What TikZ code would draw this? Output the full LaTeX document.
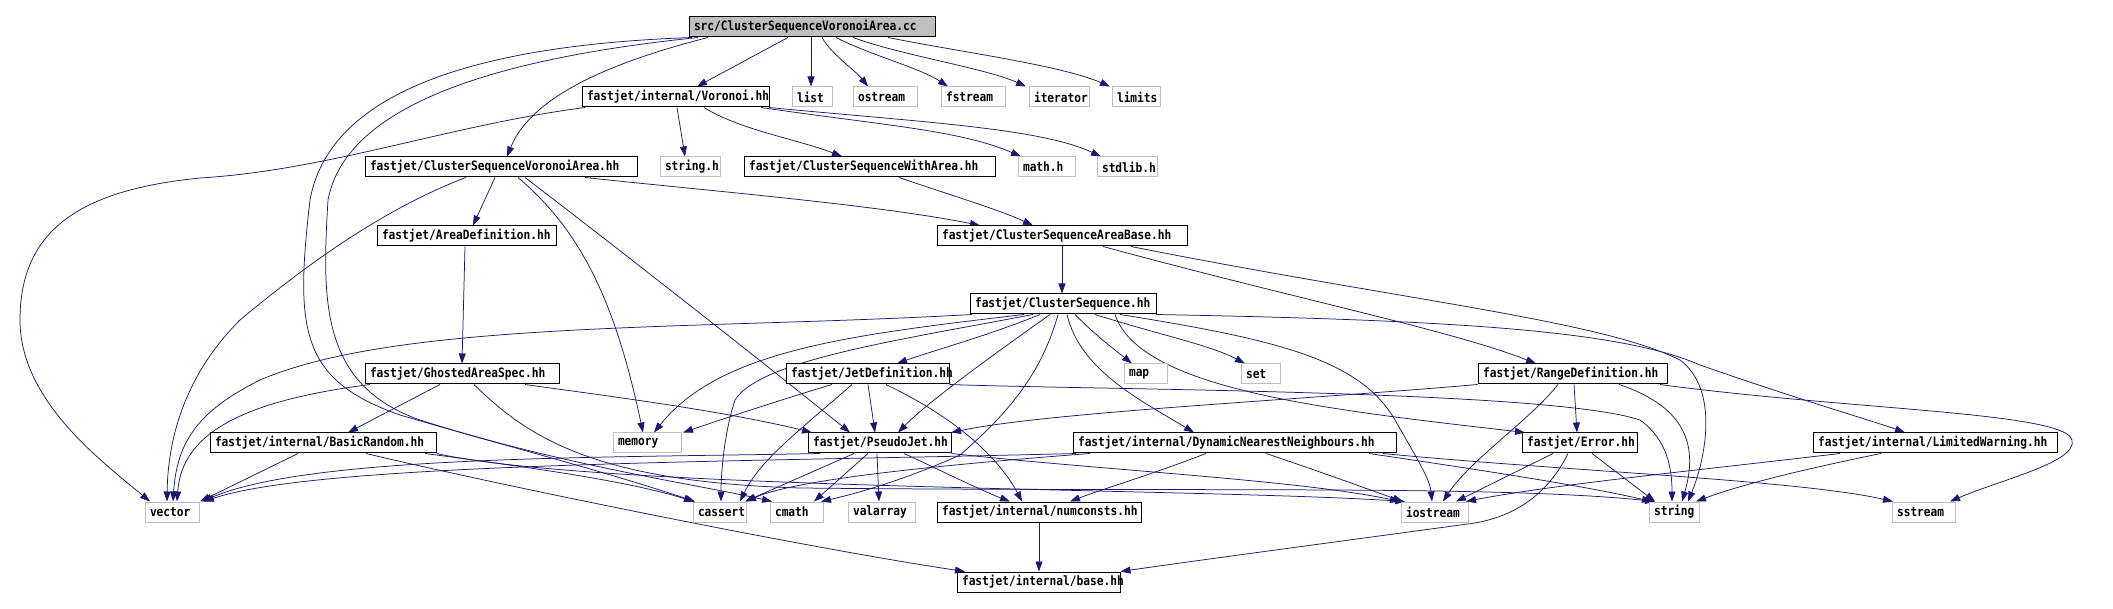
\documentclass[tikz,border=0pt]{standalone}
\usepackage{fontspec}
\setmonofont{DejaVu Sans Mono}
\usetikzlibrary{arrows.meta}
\definecolor{edgec}{HTML}{191970}
\definecolor{grayb}{HTML}{BFBFBF}
\pgfdeclarelayer{edges}
\pgfsetlayers{edges,main}
\newcommand\nd[6]{\node[#1, minimum width=#5pt] (#2) at (#3,#4) {\makebox[\dimexpr #5pt-10pt\relax][l]{\scalebox{1}[1.15]{#6}}};}
\begin{document}
\begin{tikzpicture}[x=1pt,y=-1pt,
  font=\ttfamily\bfseries\fontsize{11.2pt}{13pt}\selectfont,
  hdr/.style={draw=black, line width=1pt, fill=white, minimum height=20pt, inner sep=0pt},
  sys/.style={draw=grayb, line width=1pt, fill=white, minimum height=20pt, inner sep=0pt},
  root/.style={draw=black, line width=1pt, fill=grayb, minimum height=20pt, inner sep=0pt},
  e/.style={draw=edgec, line width=0.75pt, -{Triangle[length=10pt,width=7pt]}}]
\useasboundingbox (0,0) rectangle (2113,609);
% nodes
\nd{root}{src}{812}{27}{246}{src/ClusterSequenceVoronoiArea.cc}
\nd{hdr}{voronoi}{675.5}{97}{187}{fastjet/internal/Voronoi.hh}
\nd{sys}{list}{812}{97}{40}{list}
\nd{sys}{ostream}{885}{97}{64}{ostream}
\nd{sys}{fstream}{973}{97}{64}{fstream}
\nd{sys}{iterator}{1059}{97}{60}{iterator}
\nd{sys}{limits}{1136}{97}{48}{limits}
\nd{hdr}{csva}{501}{167}{272}{fastjet/ClusterSequenceVoronoiArea.hh}
\nd{sys}{stringh}{690}{167}{60}{string.h}
\nd{hdr}{cswa}{869.5}{167}{251}{fastjet/ClusterSequenceWithArea.hh}
\nd{sys}{mathh}{1046.5}{167}{57}{math.h}
\nd{sys}{stdlibh}{1127}{167}{60}{stdlib.h}
\nd{hdr}{areadef}{466.5}{236}{179}{fastjet/AreaDefinition.hh}
\nd{hdr}{csab}{1062}{236}{250}{fastjet/ClusterSequenceAreaBase.hh}
\nd{hdr}{cs}{1063}{304}{186}{fastjet/ClusterSequence.hh}
\nd{hdr}{gas}{462}{374}{194}{fastjet/GhostedAreaSpec.hh}
\nd{hdr}{jetdef}{867.5}{374}{163}{fastjet/JetDefinition.hh}
\nd{sys}{map}{1145.5}{374}{43}{map}
\nd{sys}{set}{1260.5}{374}{39}{set}
\nd{hdr}{rangedef}{1572.5}{374}{189}{fastjet/RangeDefinition.hh}
\nd{hdr}{basicrandom}{323}{443}{226}{fastjet/internal/BasicRandom.hh}
\nd{sys}{memory}{647}{443}{68}{memory}
\nd{hdr}{pseudojet}{879.5}{443}{143}{fastjet/PseudoJet.hh}
\nd{hdr}{dnn}{1234.5}{443}{323}{fastjet/internal/DynamicNearestNeighbours.hh}
\nd{hdr}{error}{1579.5}{443}{115}{fastjet/Error.hh}
\nd{hdr}{limitedwarning}{1935}{443}{244}{fastjet/internal/LimitedWarning.hh}
\nd{sys}{vector}{172}{512}{54}{vector}
\nd{sys}{cassert}{719.5}{512}{53}{cassert}
\nd{sys}{cmath}{796.5}{512}{53}{cmath}
\nd{sys}{valarray}{881.5}{512}{67}{valarray}
\nd{hdr}{numconsts}{1039}{512}{204}{fastjet/internal/numconsts.hh}
\nd{sys}{iostream}{1434.5}{512}{67}{iostream}
\nd{sys}{string}{1674}{512}{50}{string}
\nd{sys}{sstream}{1923.5}{512}{63}{sstream}
\nd{hdr}{base}{1038.5}{582}{163}{fastjet/internal/base.hh}
\begin{pgfonlayer}{edges}
\fill[white] (0,0) rectangle (2113,609);
% src
\draw[e] (src.south -| 788,0) -- (voronoi.north -| 697,0);
\draw[e] (src.south -| 811,0) -- (list.north -| 811,0);
\draw[e] (src.south -| 822,0) .. controls (832,55) and (855,70) .. (ostream.north -| 868,0);
\draw[e] (src.south -| 836,0) .. controls (870,55) and (920,68) .. (fstream.north -| 948,0);
\draw[e] (src.south -| 853,0) .. controls (900,55) and (985,68) .. (iterator.north -| 1026,0);
\draw[e] (src.south -| 888,0) .. controls (960,52) and (1060,65) .. (limits.north -| 1110,0);
\draw[e] (src.south -| 708,0) .. controls (600,65) and (530,100) .. (csva.north -| 507,0);
\draw[e] (src.south -| 692,0) .. controls (480,45) and (330,90) .. (310,200) .. controls (295,330) and (300,380) .. (400,415) .. controls (520,450) and (600,470) .. (cassert.north -| 695,0);
\draw[e] (src.south -| 698,0) .. controls (480,60) and (345,110) .. (328,200) .. controls (322,300) and (320,385) .. (420,420) .. controls (560,465) and (700,485) .. (cmath.north -| 772,0);
% voronoi
\draw[e] (voronoi.south -| 585,0) .. controls (450,125) and (330,170) .. (200,178) .. controls (80,190) and (20,230) .. (20,320) .. controls (20,400) and (100,460) .. (vector.north -| 150,0);
\draw[e] (voronoi.south -| 677,0) -- (stringh.north -| 685,0);
\draw[e] (voronoi.south -| 704,0) .. controls (740,130) and (800,140) .. (cswa.north -| 842,0);
\draw[e] (voronoi.south -| 761,0) .. controls (880,125) and (960,130) .. (mathh.north -| 1021,0);
\draw[e] (voronoi.south -| 769,0) .. controls (920,122) and (1040,128) .. (stdlibh.north -| 1101,0);
% csva
\draw[e] (csva.south -| 495,0) -- (areadef.north -| 473,0);
\draw[e] (csva.south -| 585,0) .. controls (700,190) and (880,205) .. (csab.north -| 980,0);
\draw[e] (csva.south -| 466,0) .. controls (380,210) and (300,270) .. (240,320) .. controls (190,370) and (168,430) .. (vector.north -| 167,0);
\draw[e] (csva.south -| 518,0) .. controls (580,230) and (615,300) .. (memory.north -| 643,0);
\draw[e] (csva.south -| 525,0) .. controls (620,250) and (760,360) .. (pseudojet.north -| 850,0);
% cswa, areadef
\draw[e] (cswa.south -| 899,0) .. controls (950,195) and (1000,210) .. (csab.north -| 1033,0);
\draw[e] (areadef.south -| 465,0) -- (gas.north -| 462,0);
% csab
\draw[e] (csab.south) -- (cs.north -| 1062,0);
\draw[e] (csab.south -| 1103,0) .. controls (1300,300) and (1450,330) .. (rangedef.north -| 1536,0);
\draw[e] (csab.south -| 1131,0) .. controls (1400,300) and (1600,320) .. (1680,360) .. controls (1720,390) and (1705,460) .. (string.north -| 1688,0);
% cs
\draw[e] (cs.south -| 972,0) .. controls (700,330) and (400,320) .. (260,380) .. controls (200,410) and (177,440) .. (vector.north -| 173,0);
\draw[e] (cs.south -| 1024,0) .. controls (850,335) and (720,350) .. (memory.north -| 654,0);
\draw[e] (cs.south -| 1033,0) .. controls (900,340) and (760,360) .. (735,400) .. controls (725,430) and (721,470) .. (cassert.north -| 721,0);
\draw[e] (cs.south -| 1040,0) .. controls (990,335) and (935,350) .. (jetdef.north -| 897,0);
\draw[e] (cs.south -| 1050,0) .. controls (1000,350) and (930,400) .. (pseudojet.north -| 898,0);
\draw[e] (cs.south -| 1058,0) .. controls (1040,380) and (1000,420) .. (960,455) .. controls (900,482) and (850,495) .. (cmath.north -| 821,0);
\draw[e] (cs.south -| 1067,0) .. controls (1080,370) and (1140,400) .. (dnn.north -| 1194,0);
\draw[e] (cs.south -| 1075,0) .. controls (1095,335) and (1115,350) .. (map.north -| 1132,0);
\draw[e] (cs.south -| 1095,0) .. controls (1160,335) and (1210,345) .. (set.north -| 1245,0);
\draw[e] (cs.south -| 1120,0) .. controls (1280,340) and (1360,360) .. (1395,420) .. controls (1418,460) and (1430,480) .. (iostream.north -| 1432,0);
\draw[e] (cs.south -| 1115,0) .. controls (1140,390) and (1330,410) .. (error.north -| 1525,0);
\draw[e] (cs.south -| 1156,0) .. controls (1450,320) and (1620,330) .. (1700,365) .. controls (1800,400) and (1870,420) .. (limitedwarning.north -| 1905,0);
% jetdef
\draw[e] (jetdef.south -| 832,0) .. controls (780,400) and (720,420) .. (memory.north -| 683,0);
\draw[e] (jetdef.south -| 852,0) .. controls (800,430) and (760,460) .. (cassert.north -| 740,0);
\draw[e] (jetdef.south -| 868,0) -- (pseudojet.north -| 875,0);
\draw[e] (jetdef.south -| 886,0) .. controls (960,420) and (1000,460) .. (numconsts.north -| 1022,0);
\draw[e] (jetdef.south east) .. controls (1100,390) and (1550,390) .. (1640,420) .. controls (1668,440) and (1672,470) .. (string.north -| 1672,0);
% gas
\draw[e] (gas.south -| 370,0) .. controls (250,400) and (182,430) .. (vector.north -| 177,0);
\draw[e] (gas.south -| 440,0) -- (basicrandom.north -| 348,0);
\draw[e] (gas.south -| 525,0) .. controls (600,395) and (720,410) .. (pseudojet.north -| 812,0);
\draw[e] (gas.south -| 474,0) .. controls (530,440) and (600,482) .. (800,488) .. controls (1200,492) and (1500,485) .. (string.north -| 1655,0);
% basicrandom
\draw[e] (basicrandom.south -| 298,0) -- (vector.north -| 200,0);
\draw[e] (basicrandom.south -| 366,0) .. controls (520,490) and (820,550) .. (base.north -| 965,0);
\draw[e] (basicrandom.south -| 425,0) .. controls (550,470) and (630,482) .. (cassert.north -| 694,0);
\draw[e] (basicrandom.south east) .. controls (600,490) and (1200,488) .. (iostream.north -| 1405,0);
% pseudojet
\draw[e] (pseudojet.south -| 820,0) .. controls (600,458) and (310,455) .. (vector.north -| 202,0);
\draw[e] (pseudojet.south -| 854,0) -- (cassert.north -| 745,0);
\draw[e] (pseudojet.south -| 868,0) -- (cmath.north -| 814,0);
\draw[e] (pseudojet.south -| 877,0) -- (valarray.north -| 879,0);
\draw[e] (pseudojet.south -| 904,0) .. controls (940,470) and (980,490) .. (numconsts.north -| 1010,0);
\draw[e] (pseudojet.south east) .. controls (1100,470) and (1300,480) .. (iostream.north -| 1400,0);
% dnn
\draw[e] (dnn.south -| 1076,0) .. controls (750,462) and (320,462) .. (vector.north -| 204,0);
\draw[e] (dnn.south -| 1090,0) .. controls (900,468) and (790,482) .. (cassert.north -| 746,0);
\draw[e] (dnn.south -| 1206,0) .. controls (1150,475) and (1100,490) .. (numconsts.north -| 1070,0);
\draw[e] (dnn.south -| 1266,0) .. controls (1330,475) and (1370,490) .. (iostream.north -| 1403,0);
\draw[e] (dnn.south -| 1369,0) .. controls (1480,470) and (1580,485) .. (string.north -| 1652,0);
\draw[e] (dnn.south -| 1383,0) .. controls (1550,470) and (1800,480) .. (sstream.north -| 1893,0);
% rangedef
\draw[e] (rangedef.south west) .. controls (1300,400) and (1050,412) .. (pseudojet.north -| 951,0);
\draw[e] (rangedef.south -| 1558,0) .. controls (1530,420) and (1470,460) .. (iostream.north -| 1443,0);
\draw[e] (rangedef.south -| 1574,0) -- (error.north -| 1577,0);
\draw[e] (rangedef.south -| 1619,0) .. controls (1680,405) and (1700,440) .. (string.north -| 1682,0);
\draw[e] (rangedef.south -| 1660,0) .. controls (1850,410) and (2065,412) .. (2072,440) .. controls (2078,462) and (2000,480) .. (sstream.north -| 1950,0);
% error
\draw[e] (error.south -| 1553,0) -- (iostream.north -| 1456,0);
\draw[e] (error.south -| 1592,0) -- (string.north -| 1655,0);
\draw[e] (error.south -| 1568,0) .. controls (1550,490) and (1520,515) .. (1475,523) .. controls (1350,540) and (1200,560) .. (base.north east);
% limitedwarning
\draw[e] (limitedwarning.south -| 1840,0) .. controls (1700,470) and (1550,485) .. (iostream.north -| 1466,0);
\draw[e] (limitedwarning.south -| 1881,0) .. controls (1800,470) and (1740,485) .. (string.north -| 1696,0);
% numconsts
\draw[e] (numconsts.south) -- (base.north -| 1039,0);
\end{pgfonlayer}
\end{tikzpicture}
\end{document}
